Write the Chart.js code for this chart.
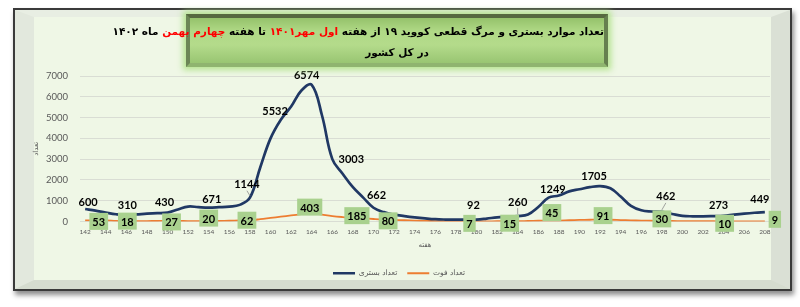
<!DOCTYPE html>
<html>
<head>
<meta charset="utf-8">
<script src="https://cdn.jsdelivr.net/npm/chart.js@4.4.1/dist/chart.umd.min.js"></script>
<style>
  html, body { margin: 0; padding: 0; background: #fff; }
  body { width: 800px; height: 307px; position: relative; overflow: hidden; }
  .frame {
    position: absolute; left: 13px; top: 8px; width: 779px; height: 283px;
    box-sizing: border-box; border: 2px solid #3a3a3a;
    box-shadow: 2px 4px 5px rgba(0,0,0,0.45);
  }
  .bevel {
    position: absolute; left: 0; top: 0; right: 0; bottom: 0; box-sizing: border-box;
    background: #eff7e6;
    border-left: 19px solid #e2e8dd;
    border-right: 19px solid #dae0d5;
    border-top: 7px solid #e8eee3;
    border-bottom: 9px solid #d5dccf;
  }
  #chart { position: absolute; left: 0; top: 0; }
  .titlebox {
    position: absolute; left: 186px; top: 14px; width: 422px; height: 53px;
    box-sizing: border-box;
    border-top: 4px solid #56693f;
    border-left: 4px solid #6c8656;
    border-right: 4px solid #66804f;
    border-bottom: 4px solid #8fb46f;
    background: linear-gradient(#95c26b 0%, #b0d986 30%, #b4db8b 60%, #99c572 100%);
    box-shadow: 0 0 6px 3px rgba(175, 225, 135, 0.9);
    direction: rtl; text-align: center;
    font-family: "DejaVu Sans", sans-serif; font-weight: bold; color: #000;
  }
  .titlebox .l1 { font-size: 10.5px; line-height: 12px; margin-top: 7px; white-space: nowrap; }
  .titlebox .l2 { font-size: 10.5px; line-height: 12px; margin-top: 9px; }
  .titlebox .red { color: #ff0000; }
</style>
</head>
<body>
<div class="frame"><div class="bevel"></div></div>
<canvas id="chart" width="800" height="307"></canvas>
<div class="titlebox">
  <div class="l1">تعداد موارد بستری و مرگ قطعی کووید ۱۹ از هفته <span class="red">اول مهر۱۴۰۱</span> تا هفته <span class="red">چهارم بهمن</span> ماه ۱۴۰۲</div>
  <div class="l2">در کل کشور</div>
</div>
<script>
// هفته ها
const weeks = [
  142,143,144,145,146,147,148,149,150,151,152,153,154,155,156,157,158,159,160,
  161,162,163,164,165,166,167,168,169,170,171,172,173,174,175,176,177,178,179,
  180,181,182,183,184,185,186,187,188,189,190,191,192,193,194,195,196,197,198,
  199,200,201,202,203,204,205,206,207,208
];
// تعداد بستری
const bedCounts = [
  600,520,430,350,310,340,380,400,430,580,720,690,671,690,720,800,1144,2600,4000,
  4900,5532,6300,6574,5100,3003,2300,1650,1150,662,450,330,260,200,150,110,95,90,90,
  92,140,200,230,260,340,700,1150,1249,1450,1550,1650,1705,1600,1200,750,540,480,462,
  360,270,250,250,260,273,330,380,420,449
];
// تعداد فوت
const deathCounts = [
  50,52,53,30,18,20,22,25,27,25,22,20,20,25,35,50,62,110,170,
  230,290,350,403,330,260,215,185,150,120,95,80,60,45,30,20,12,8,7,
  7,9,11,13,15,25,35,42,45,60,75,85,91,85,70,55,42,35,30,
  25,20,15,12,11,10,10,9,9,9
];
const yTicks = [0,1000,2000,3000,4000,5000,6000,7000];

// weeks that carry a value label
const bedLabelWeeks   = [142,146,150,154,158,162,164,166,170,180,184,188,192,198,204,208];
const deathLabelWeeks = [144,146,150,154,158,164,168,172,180,184,188,192,198,204,208];

// label placement (dx, dy from the point), leader line flag
const bedLabelShift = [
  [3,-7],[1,-10],[-3,-10],[3,-8],[-3,-13,1],[-16,5],[-5,-9],[19,0],
  [3,-12],[-3,-14],[0,-14,1],[-6,-6],[-6,-10],[4,-15,1],[-5,-10],[-5,-13]
];
const deathLabelShift = [
  [-7,1],[1,0],[4,1],[0,-3],[-3,0],[-2,-6],[4,-2],[-6,1],
  [-7,2],[-8,2],[-7,-8],[3,-4],[0,-2],[1,2],[10,-2]
];

const valueLabels = {
  id: 'valueLabels',
  afterDatasetsDraw(chart) {
    const ctx = chart.ctx;
    ctx.save();
    ctx.font = 'bold 11px Lato';
    ctx.textAlign = 'center';
    ctx.textBaseline = 'middle';

    const m0 = chart.getDatasetMeta(0);
    bedLabelWeeks.forEach((w, k) => {
      const i = weeks.indexOf(w);
      const p = m0.data[i];
      const s = bedLabelShift[k];
      const lx = p.x + s[0], ly = p.y + s[1];
      if (s[2]) {
        ctx.strokeStyle = '#8c8c8c';
        ctx.lineWidth = 0.8;
        ctx.beginPath();
        ctx.moveTo(lx, ly + 6);
        ctx.lineTo(p.x, p.y - 2);
        ctx.stroke();
      }
      ctx.fillStyle = '#000';
      ctx.fillText(String(bedCounts[i]), lx, ly);
    });

    const m1 = chart.getDatasetMeta(1);
    deathLabelWeeks.forEach((w, k) => {
      const i = weeks.indexOf(w);
      const p = m1.data[i];
      const s = deathLabelShift[k];
      const txt = String(deathCounts[i]);
      const tw = ctx.measureText(txt).width;
      const bw = tw + 6, bh = 17;
      const cx = p.x + s[0], cy = p.y + s[1];
      ctx.fillStyle = '#a9d18e';
      ctx.fillRect(cx - bw / 2, cy - bh / 2, bw, bh);
      ctx.fillStyle = '#000';
      ctx.fillText(txt, cx, cy + 1);
    });
    ctx.restore();
  }
};

new Chart(document.getElementById('chart'), {
  type: 'line',
  data: {
    labels: weeks,
    datasets: [
      {
        label: 'تعداد بستری',
        data: bedCounts,
        borderColor: '#203864',
        backgroundColor: '#203864',
        borderWidth: 2.7,
        pointRadius: 0,
        tension: 0.4,
        fill: false
      },
      {
        label: 'تعداد فوت',
        data: deathCounts,
        borderColor: '#ed7d31',
        backgroundColor: '#ed7d31',
        borderWidth: 1.8,
        pointRadius: 0,
        tension: 0.4,
        fill: false
      }
    ]
  },
  options: {
    responsive: false,
    animation: false,
    layout: { padding: { left: 28, right: 30, top: 76, bottom: 20 } },
    scales: {
      x: {
        offset: true,
        grid: { display: false, drawTicks: false },
        border: { display: false },
        ticks: {
          autoSkip: false,
          maxRotation: 0,
          padding: 7,
          color: '#595959',
          font: { family: 'Lato', size: 6.5 },
          callback: function(v, i) { return weeks[i] % 2 === 0 ? weeks[i] : ''; }
        },
        title: {
          display: true,
          text: 'هفته',
          color: '#595959',
          font: { family: 'DejaVu Sans', size: 7 },
          padding: { top: 0, bottom: 10 }
        },
        afterFit: function(scale) { scale.height = 38; }
      },
      y: {
        min: 0,
        max: 7000,
        afterBuildTicks: function(scale) { scale.ticks = yTicks.map(v => ({ value: v })); },
        grid: { color: '#d9ddd4', drawTicks: false },
        border: { display: false },
        ticks: {
          padding: 12,
          color: '#595959',
          font: { family: 'Lato', size: 9.5 },
          callback: function(v) { return String(v); }
        },
        title: {
          display: true,
          text: 'تعداد',
          color: '#595959',
          font: { family: 'DejaVu Sans', size: 7 },
          padding: { top: 4, bottom: 0 }
        },
        afterFit: function(scale) { scale.width = 52; }
      }
    },
    plugins: {
      legend: {
        position: 'bottom',
        labels: {
          usePointStyle: true,
          pointStyle: 'line',
          pointStyleWidth: 22,
          boxHeight: 8,
          padding: 10,
          color: '#595959',
          font: { family: 'DejaVu Sans', size: 7.5 }
        }
      },
      tooltip: { enabled: false }
    }
  },
  plugins: [valueLabels]
});
</script>
</body>
</html>
